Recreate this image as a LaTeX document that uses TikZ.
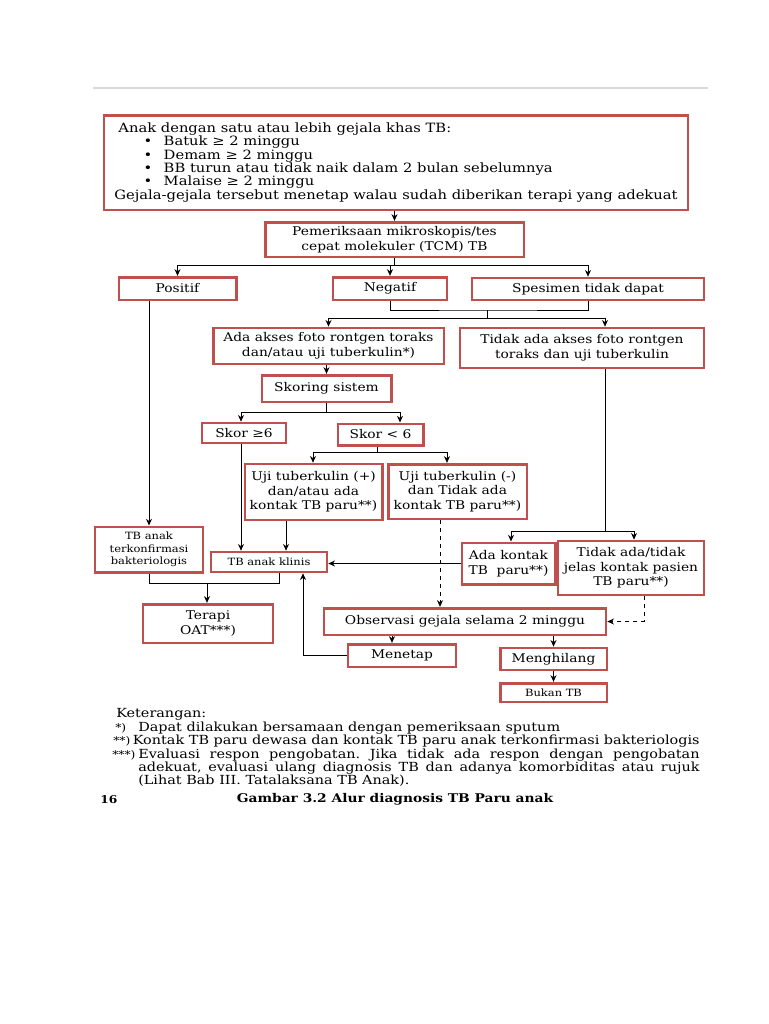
\documentclass[tikz,border=0pt]{standalone}
\usepackage{fontspec}
\setmainfont{DejaVu Serif}[FakeStretch=1.15]
\usetikzlibrary{positioning,arrows.meta}
\definecolor{boxred}{RGB}{192,80,77}
\frenchspacing
\tikzset{%
  box/.style = {draw=boxred,line width=2pt,fill=white,align=center,
        inner sep=1pt,font=\fontsize{9}{11}\selectfont},
  smallbox/.style = {box,font=\fontsize{7.5}{9.5}\selectfont},
  link/.style = {line width=0.6pt},
  arr/.style = {-{Stealth[length=5pt,width=4.5pt]},line width=0.6pt},
  dasharr/.style = {arr,dashed},
  legend/.style = {inner sep=0pt,font=\fontsize{9.4}{11}\selectfont}
}
\begin{document}
\begin{tikzpicture}[x=0.75pt,y=-0.75pt]
        \useasboundingbox (0,0) rectangle (768,1024);
        % page rule
        \draw[black!15,line width=1pt] (93,88) -- (708,88);
        % boxes
        \node[box,minimum width=438pt,minimum height=71pt,align=left,
              font=\fontsize{9.6}{10}\selectfont] (gejala) at (396,162.5)
              {\hspace*{3pt}Anak dengan satu atau lebih gejala khas TB:\\
               \makebox[37pt][l]{\hspace*{22pt}\textbullet}Batuk ≥ 2 minggu\\
               \makebox[37pt][l]{\hspace*{22pt}\textbullet}Demam ≥ 2 minggu\\
               \makebox[37pt][l]{\hspace*{22pt}\textbullet}BB turun atau tidak naik dalam 2 bulan sebelumnya\\
               \makebox[37pt][l]{\hspace*{22pt}\textbullet}Malaise ≥ 2 minggu\\
               Gejala-gejala tersebut menetap walau sudah diberikan terapi yang adekuat};
        \node[box,minimum width=194pt,minimum height=26pt] (pemeriksaan) at (394.5,239.5)
              {Pemeriksaan mikroskopis/tes\\cepat molekuler (TCM) TB};
        \node[box,minimum width=88pt,minimum height=17pt] (positif) at (177.5,288.5) {Positif};
        \node[box,minimum width=85.5pt,minimum height=17pt] (negatif) at (390,288.5) {Negatif};
        \node[box,minimum width=174pt,minimum height=16.5pt] (spesimen) at (588,289) {Spesimen tidak dapat};
        \node[box,minimum width=173pt,minimum height=27pt] (adaakses) at (328.5,346)
              {Ada akses foto rontgen toraks\\dan/atau uji tuberkulin*)};
        \node[box,minimum width=183pt,minimum height=30pt] (tidakakses) at (582,348)
              {Tidak ada akses foto rontgen\\toraks dan uji tuberkulin};
        \node[box,minimum width=97pt,minimum height=20pt] (skoring) at (326.5,388.5) {Skoring sistem};
        \node[box,minimum width=63pt,minimum height=15pt] (skorA) at (244,433) {Skor ≥6};
        \node[box,minimum width=64pt,minimum height=16pt] (skorB) at (380.5,434.5) {Skor < 6};
        \node[box,minimum width=103pt,minimum height=42pt] (ujiplus) at (313.5,492)
              {Uji tuberkulin (+)\\dan/atau ada\\kontak TB paru**)};
        \node[box,minimum width=104pt,minimum height=41pt] (ujiminus) at (457.5,491.5)
              {Uji tuberkulin (-)\\dan Tidak ada\\kontak TB paru**)};
        \node[smallbox,minimum width=81pt,minimum height=34pt] (konfirmasi) at (149,549.5)
              {TB anak\\terkonfirmasi\\bakteriologis};
        \node[smallbox,minimum width=87pt,minimum height=15pt] (klinis) at (269,562) {TB anak klinis};
        \node[box,minimum width=70pt,minimum height=31pt] (adakontak) at (508.5,563.5)
              {Ada kontak\\TB~~paru**)};
        \node[box,minimum width=109.5pt,minimum height=40.5pt] (tidakkontak) at (631,568)
              {Tidak ada/tidak\\jelas kontak pasien\\TB paru**)};
        \node[box,minimum width=97.5pt,minimum height=29pt] (terapi) at (208,623.5) {Terapi\\OAT***)};
        \node[box,minimum width=211.5pt,minimum height=20pt] (observasi) at (465,621.5)
              {Observasi gejala selama 2 minggu};
        \node[box,minimum width=81pt,minimum height=17pt] (menetap) at (402,655.5) {Menetap};
        \node[box,minimum width=80pt,minimum height=16.5pt] (menghilang) at (553.5,659) {Menghilang};
        \node[smallbox,minimum width=80pt,minimum height=14pt] (bukan) at (553.5,692.5) {Bukan TB};
        % first split
        \draw[arr] (gejala.south -| pemeriksaan.north) -- (pemeriksaan.north);
        \coordinate (r1) at (393,265);
        \draw[link] (pemeriksaan.south) -- (pemeriksaan.south |- r1);
        \draw[link] (positif.north |- r1) -- (spesimen.north |- r1);
        \draw[arr] (positif.north |- r1) -- (positif.north);
        \draw[arr] (negatif.north |- r1) -- (negatif.north);
        \draw[arr] (spesimen.north |- r1) -- (spesimen.north);
        % negatif and spesimen joined
        \coordinate (j2) at (487,310);
        \coordinate (r2) at (487,318);
        \coordinate (t1) at (605,318);
        \draw[link] (negatif.south) |- (j2) -| (spesimen.south);
        \draw[link] (j2) -- (r2);
        \draw[link] (adaakses.north |- r2) -- (t1);
        \draw[arr] (adaakses.north |- r2) -- (adaakses.north);
        \draw[arr] (t1) -- (t1 |- tidakakses.north);
        % scoring
        \draw[arr] (skoring.north |- adaakses.south) -- (skoring.north);
        \coordinate (s1) at (241,412);
        \coordinate (s2) at (400,412);
        \draw[link] (skoring.south) -- (skoring.south |- s1);
        \draw[link] (s1) -- (s2);
        \draw[arr] (s1) -- (s1 |- skorA.north);
        \draw[arr] (s2) -- (s2 |- skorB.north);
        \coordinate (r4) at (377,452);
        \coordinate (u1) at (313,452);
        \coordinate (u2) at (447,452);
        \draw[link] (r4 |- skorB.south) -- (r4);
        \draw[link] (u1) -- (u2);
        \draw[arr] (u1) -- (u1 |- ujiplus.north);
        \draw[arr] (u2) -- (u2 |- ujiminus.north);
        % to TB anak
        \draw[arr] (konfirmasi.north |- positif.south) -- (konfirmasi.north);
        \draw[arr] (s1 |- skorA.south) -- (s1 |- klinis.north);
        \coordinate (u3) at (286,520);
        \draw[arr] (u3 |- ujiplus.south) -- (u3 |- klinis.north);
        % no x-ray branch
        \coordinate (k1) at (511,531);
        \coordinate (k2) at (634,531);
        \draw[link] (t1 |- tidakakses.south) -- (t1 |- k1);
        \draw[link] (k1) -- (k2);
        \draw[arr] (k1) -- (k1 |- adakontak.north);
        \draw[arr] (k2) -- (k2 |- tidakkontak.north);
        \draw[arr] (adakontak.west) -- (adakontak.west -| klinis.east);
        % observation
        \coordinate (d1) at (440,520);
        \coordinate (d2) at (644,600);
        \draw[dasharr] (d1 |- ujiminus.south) -- (d1 |- observasi.north);
        \draw[dasharr] (d2 |- tidakkontak.south) |- (observasi.east);
        \coordinate (o1) at (392,640);
        \draw[arr] (o1 |- observasi.south) -- (o1 |- menetap.north);
        \draw[arr] (observasi.south -| menghilang.north) -- (menghilang.north);
        \draw[arr] (menghilang) -- (bukan);
        \coordinate (b1) at (303,655);
        \draw[arr] (menetap.west) -| (b1 |- klinis.south);
        % therapy
        \coordinate (m1) at (207,583);
        \coordinate (m2) at (279,583);
        \draw[link] (konfirmasi.south) |- (m2) -- (m2 |- klinis.south);
        \draw[arr] (m1) -- (m1 |- terapi.north);
        % legend
        \node[legend,anchor=west] (ket) at (116,714) {Keterangan:};
        \node[legend,anchor=west,font=\fontsize{8}{10}\selectfont] (ket1m) at (115,728) {*)};
        \node[legend,anchor=west] (ket1) at (138,728) {Dapat dilakukan bersamaan dengan pemeriksaan sputum};
        \node[legend,anchor=west,font=\fontsize{8}{10}\selectfont] (ket2m) at (113,741) {**)};
        \node[legend,right=1.5pt of ket2m] (ket2) {Kontak TB paru dewasa dan kontak TB paru anak terkonfirmasi bakteriologis};
        \node[legend,anchor=west,font=\fontsize{8}{10}\selectfont] (ket3m) at (112,755) {***)};
        \node[legend,anchor=west] (ket3) at (138,755)
              {\makebox[421pt][s]{Evaluasi respon pengobatan. Jika tidak ada respon dengan pengobatan}};
        \node[legend,anchor=west] (ket4) at (138,768)
              {\makebox[421pt][s]{adekuat, evaluasi ulang diagnosis TB dan adanya komorbiditas atau rujuk}};
        \node[legend,anchor=west] (ket5) at (138,781) {(Lihat Bab III. Tatalaksana TB Anak).};
        \node[legend,anchor=west,font=\bfseries\fontsize{8}{10}\selectfont] (hal) at (100,800) {16};
        \node[legend,font=\bfseries\fontsize{9}{11}\selectfont] (judul) at (395,799)
              {Gambar 3.2 Alur diagnosis TB Paru anak};
    \end{tikzpicture}
\end{document}
